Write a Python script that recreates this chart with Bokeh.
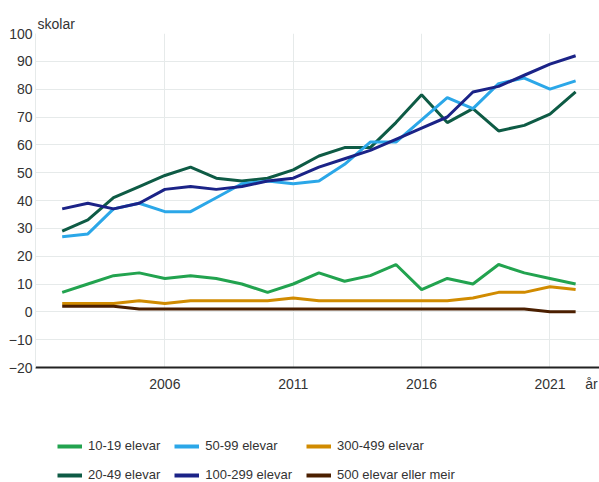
from bokeh.plotting import figure
from bokeh.models import Range1d, FixedTicker, Legend, LegendItem
from bokeh.layouts import column
from bokeh.embed import file_html
from bokeh.resources import INLINE

years = list(range(2002, 2023))
e10_19 = [7, 10, 13, 14, 12, 13, 12, 10, 7, 10, 14, 11, 13, 17, 8, 12, 10, 17, 14, 12, 10]
e20_49 = [29, 33, 41, 45, 49, 52, 48, 47, 48, 51, 56, 59, 59, 68, 78, 68, 73, 65, 67, 71, 79]
e50_99 = [27, 28, 37, 39, 36, 36, 41, 46, 47, 46, 47, 53, 61, 61, 69, 77, 73, 82, 84, 80, 83]
e100_299 = [37, 39, 37, 39, 44, 45, 44, 45, 47, 48, 52, 55, 58, 62, 66, 70, 79, 81, 85, 89, 92]
e300_499 = [3, 3, 3, 4, 3, 4, 4, 4, 4, 5, 4, 4, 4, 4, 4, 4, 5, 7, 7, 9, 8]
e500 = [2, 2, 2, 1, 1, 1, 1, 1, 1, 1, 1, 1, 1, 1, 1, 1, 1, 1, 1, 0, 0]

series_names = ["10-19 elevar", "20-49 elevar", "50-99 elevar",
                "100-299 elevar", "300-499 elevar", "500 elevar eller meir"]
series_values = [e10_19, e20_49, e50_99, e100_299, e300_499, e500]
series_colors = ["#22a34f", "#0e5b45", "#2ba7e8", "#1b2387", "#d18b00", "#4b1f00"]

x_ticks = [2006, 2011, 2016, 2021]
x_unit_pos = 2022.62
x_unit_label = "år"
y_ticks = list(range(-20, 101, 10))
y_title = "skolar"

FONT = "Liberation Sans"
TXT = "#333333"
GRID = "#e6eaea"

p = figure(width=599, height=395, output_backend="svg", toolbar_location=None,
           x_range=Range1d(2000.96, 2022.93), y_range=Range1d(-20, 100),
           min_border_left=35, min_border_right=0, min_border_top=33,
           min_border_bottom=28)
p.outline_line_color = None
p.background_fill_color = "white"

p.title.text = y_title
p.title.align = "left"
p.title.offset = 2
p.title.standoff = 3
p.title.text_font = FONT
p.title.text_font_size = "14px"
p.title.text_font_style = "normal"
p.title.text_color = TXT

for name, vals, col in zip(series_names, series_values, series_colors):
    p.line(years, vals, line_color=col, line_width=3)

p.xaxis.ticker = FixedTicker(ticks=x_ticks + [x_unit_pos])
p.xaxis.major_label_overrides = {x_unit_pos: x_unit_label}
p.yaxis.ticker = FixedTicker(ticks=y_ticks)
p.xgrid.ticker = FixedTicker(ticks=x_ticks)
p.ygrid.ticker = FixedTicker(ticks=y_ticks)
p.xgrid.grid_line_color = GRID
p.ygrid.grid_line_color = GRID

for ax in (p.xaxis, p.yaxis):
    ax.major_tick_line_color = None
    ax.minor_tick_line_color = None
    ax.major_tick_out = 0
    ax.major_tick_in = 0
    ax.major_label_text_font = FONT
    ax.major_label_text_font_size = "14px"
    ax.major_label_text_color = TXT

p.xaxis.axis_line_color = "#222222"
p.xaxis.axis_line_width = 2
p.xaxis.major_label_standoff = 8
p.yaxis.axis_line_color = GRID
p.yaxis.major_label_standoff = 3

# legend strip: series lines kept out of view, only the legend shows
pl = figure(width=599, height=87, output_backend="svg", toolbar_location=None,
            x_axis_location=None, y_axis_location=None,
            x_range=Range1d(0, 1), y_range=Range1d(0, 1),
            min_border_left=35, min_border_right=0, min_border_top=0,
            min_border_bottom=0)
pl.outline_line_color = None
pl.xgrid.visible = False
pl.ygrid.visible = False
swatches = {}
for name, vals, col in zip(series_names, series_values, series_colors):
    swatches[name] = pl.line(years, vals, line_color=col, line_width=4)

order = ["10-19 elevar", "50-99 elevar", "300-499 elevar",
         "20-49 elevar", "100-299 elevar", "500 elevar eller meir"]
legend = Legend(items=[LegendItem(label=n, renderers=[swatches[n]]) for n in order],
                location=(22, 0), orientation="horizontal", nrows=2,
                glyph_width=25, glyph_height=14, label_height=14,
                label_standoff=6, spacing=14, padding=0, margin=0,
                label_text_font=FONT, label_text_font_size="13px",
                label_text_color=TXT, border_line_color=None,
                background_fill_alpha=0)
pl.add_layout(legend, "center")

layout = column(p, pl, spacing=0)
open("out.html", "w").write(file_html(layout, INLINE))
